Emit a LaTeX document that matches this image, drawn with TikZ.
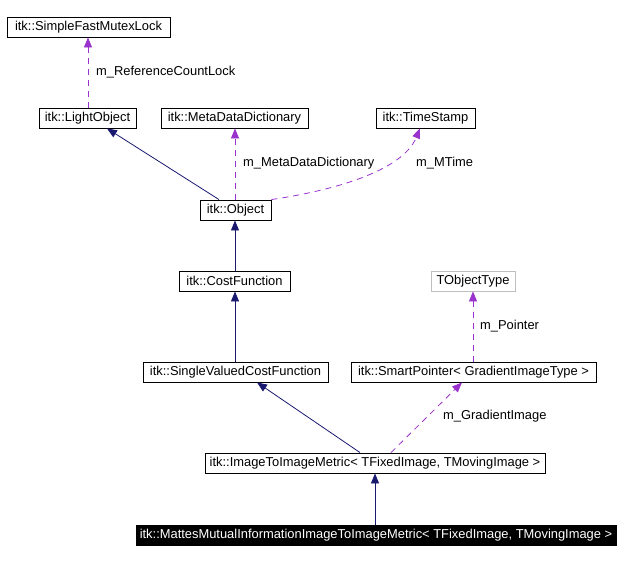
\documentclass[tikz,border=0pt]{standalone}
\usepackage{fontspec}
\setmainfont{Liberation Sans}
\usetikzlibrary{arrows.meta}
\definecolor{navyc}{HTML}{191970}
\definecolor{purp}{HTML}{9A32CD}
\definecolor{grayb}{HTML}{BFBFBF}
\begin{document}
\begin{tikzpicture}[x=1pt,y=-1pt,
  cls/.style={draw=black,line width=0.9pt,minimum height=20pt,inner xsep=0pt,inner ysep=0pt,font=\fontsize{12.9}{15.5}\selectfont,anchor=center},
  lbl/.style={font=\fontsize{12.9}{15.5}\selectfont,anchor=west,inner sep=0pt},
  inh/.style={draw=navyc,line width=0.8pt,-{Triangle[length=10pt,width=8pt]}},
  use/.style={draw=purp,line width=0.8pt,dash pattern=on 6pt off 5pt,-{Triangle[length=10pt,width=8pt]}}]
\useasboundingbox (0,0) rectangle (620,561);
\node[cls,minimum width=163pt] (sfm) at (88.5,27) {itk::SimpleFastMutexLock};
\node[cls,minimum width=97pt] (lo) at (87.5,118) {itk::LightObject};
\node[cls,minimum width=147pt] (mdd) at (234.5,118) {itk::MetaDataDictionary};
\node[cls,minimum width=99pt] (ts) at (425.5,118) {itk::TimeStamp};
\node[cls,minimum width=71pt] (obj) at (235.5,210) {itk::Object};
\node[cls,minimum width=111pt] (cf) at (234.5,281) {itk::CostFunction};
\node[cls,draw=grayb,minimum width=84pt] (tot) at (473,281) {TObjectType};
\node[cls,minimum width=185pt] (svcf) at (235.5,372) {itk::SingleValuedCostFunction};
\node[cls,minimum width=245pt] (sp) at (473.5,372) {itk::SmartPointer< GradientImageType >};
\node[cls,minimum width=340pt] (itim) at (375,463) {itk::ImageToImageMetric< TFixedImage, TMovingImage >};
\node[cls,fill=black,text=white,minimum width=480pt] (mm) at (376,535) {itk::MattesMutualInformationImageToImageMetric< TFixedImage, TMovingImage >};
% inheritance
\draw[inh] (obj.north -| 219,0) -- (lo.south -| 107,0);
\draw[inh] (cf.north -| 235,0) -- (obj.south -| 235,0);
\draw[inh] (svcf.north -| 235,0) -- (cf.south -| 235,0);
\draw[inh] (itim.north -| 360,0) -- (svcf.south -| 257,0);
\draw[inh] (mm.north -| 375,0) -- (itim.south -| 375,0);
% usage
\draw[use] (lo.north -| 88,0) -- (sfm.south -| 88,0);
\node[lbl] (l1) at (96,72) {m\_ReferenceCountLock};
\draw[use] (obj.north -| 235,0) -- (mdd.south -| 235,0);
\node[lbl] (l2) at (243,163) {m\_MetaDataDictionary};
\draw[use] (obj.north east) .. controls (330,191) and (402,172) .. (ts.south -| 420,0);
\node[lbl] (l3) at (416,163) {m\_MTime};
\draw[use] (sp.north -| 473,0) -- (tot.south -| 473,0);
\node[lbl] (l4) at (480,326) {m\_Pointer};
\draw[use] (itim.north -| 391,0) -- (sp.south -| 462,0);
\node[lbl] (l5) at (443,416) {m\_GradientImage};
\end{tikzpicture}
\end{document}
